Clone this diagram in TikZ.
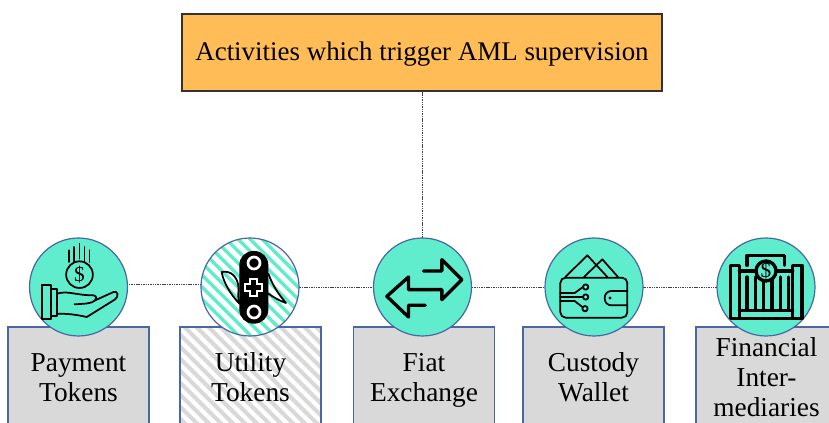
\documentclass[tikz,border=0pt]{standalone}
\usepackage{fontspec}
\setmainfont{Liberation Serif}
\usetikzlibrary{calc}
\definecolor{teal}{HTML}{5FEDCD}
\definecolor{boxgrey}{HTML}{D9D9D9}
\definecolor{edge}{HTML}{4A66A3}
\definecolor{head}{HTML}{FFBC57}
\tikzstyle{title}=[rectangle, draw=black!80, line width=1.1pt, fill=head, minimum width=360pt, minimum height=57.75pt, inner sep=0pt, text height=16pt, text depth=4pt, font=\fontsize{20.2}{24}\selectfont]
\tikzstyle{item}=[rectangle, draw=edge, line width=.9pt, fill=boxgrey, minimum width=\bw, minimum height=\bh, inner sep=0pt, align=center, font=\fontsize{20.5}{22.5}\selectfont]
\tikzstyle{badge}=[circle, draw=edge, line width=.9pt, fill=teal, minimum size=\cw, inner sep=0pt]
\tikzstyle{link}=[line width=.5pt, black!75, dash pattern=on .8pt off .5pt]
\tikzstyle{glyph}=[line width=1.3pt, line join=round, line cap=round]
\tikzstyle{bold}=[line width=2.5pt, line join=round, line cap=round]
\newcommand{\bw}{105.75pt}
\newcommand{\bh}{81pt}
\newcommand{\cw}{73.5pt}
% diagonal stripes, #1 colour, #2 width
\newcommand{\stripes}[2]{
    \foreach \s in {-16,...,16}{
        \draw[#1, line width=#2] ($(path picture bounding box.center)+(\s*9pt-60pt,60pt)$) -- ++(120pt,-120pt);
    }
}
\begin{document}
\begin{tikzpicture}[x=.75pt,y=-.75pt]
    \clip (0,0) rectangle (829,423);
    \node[title] (T) at (422,52.5) {Activities which trigger AML supervision};
    \node[item] (B0) at (78.5,381) {\strut Payment\\\strut Tokens};
    \node[item, path picture={\fill[white] (path picture bounding box.south west) rectangle (path picture bounding box.north east); \stripes{boxgrey}{3pt}}] (B1) at (250.5,381) {\strut Utility\\\strut Tokens};
    \node[item] (B2) at (424,381) {\strut Fiat\\\strut Exchange};
    \node[item] (B3) at (593.5,381) {\strut Custody\\\strut Wallet};
    \node[item] (B4) at (766.5,381) {\strut Financial\\\strut Inter-\\\strut mediaries};
    \foreach \i/\x in {0/78.5,1/250,2/422.5,3/594,4/766}{
        \coordinate (P\i) at (\x,287);
    }
    \draw[link] ($(P0)+(0,-3)$) -- ($(P1)+(0,-3)$);
    \draw[link] (P1) -- (P2) -- (P3) -- (P4);
    \draw[link] (T.south -| P2) -- (P2);
    \node[badge] (C0) at (P0) {};
    \node[badge, path picture={\fill[white] (path picture bounding box.south west) rectangle (path picture bounding box.north east); \stripes{teal}{2.4pt}}] (C1) at (P1) {};
    \node[badge] (C2) at (P2) {};
    \node[badge] (C3) at (P3) {};
    \node[badge] (C4) at (P4) {};
    % hand and coin
    \begin{scope}[shift={(C0.center)}, x=.25pt, y=-.25pt]
        \draw[glyph] (-110,-5) rectangle (-82,97);
        \draw[glyph] (-82,5) rectangle (-65,88);
        \draw[glyph] (-65,20) .. controls (-30,10) and (-10,25) .. (45,25) .. controls (55,27) and (55,35) .. (50,40) -- (105,15) .. controls (118,10) and (122,28) .. (110,37) -- (25,90) .. controls (0,85) and (-20,80) .. (-65,80);
        \draw[glyph] (50,40) .. controls (40,50) and (20,50) .. (-12,52);
        \draw[glyph] (3,-37) circle (40);
        \node[font=\fontsize{16}{16}\selectfont] (D0) at (3,-37) {\$};
        \foreach \x/\a/\b in {-28/-110/-75,-13/-120/-75,3/-130/-85,18/-120/-75,33/-110/-75}{
            \draw[glyph] (\x,\a) -- (\x,\b);
        }
    \end{scope}
    % pocket knife
    \begin{scope}[shift={(C1.center)}, x=.25pt, y=-.25pt]
        \draw[glyph] (-85,-45) .. controls (-55,-50) and (-40,-30) .. (-35,-5) .. controls (-30,10) and (-40,10) .. (-32,50) .. controls (-60,20) and (-80,-15) .. (-85,-45);
        \draw[glyph] (55,-40) .. controls (70,0) and (85,20) .. (108,48) .. controls (85,40) and (70,30) .. (55,20);
        \fill[black, rounded corners=10.5pt] (-32,-108) rectangle (55,110);
        \foreach \y in {-72,75}{
            \draw[white, line width=2pt] (12,\y) circle (18);
        }
        \draw[white, line width=1.5pt] (0,-25) -- (22,-25) -- (22,-10) -- (37,-10) -- (37,12) -- (22,12) -- (22,27) -- (0,27) -- (0,12) -- (-15,12) -- (-15,-10) -- (0,-10) -- cycle;
    \end{scope}
    % two arrows
    \begin{scope}[shift={(C2.center)}, x=.25pt, y=-.25pt]
        \draw[bold] (3,-48) -- (58,-48) -- (58,-82) -- (118,-22) -- (58,38) -- (58,8) -- (-42,8) -- (-42,-30) -- (-107,28) -- (-42,90) -- (-42,55) -- (8,55);
    \end{scope}
    % wallet
    \begin{scope}[shift={(C3.center)}, x=.25pt, y=-.25pt]
        \draw[glyph, rounded corners=4pt] (-101,-28) rectangle (100,92);
        \draw[glyph] (-86,-30) -- (-20,-95) -- (40,-30);
        \draw[glyph] (-30,-30) -- (25,-83) -- (72,-30);
        \draw[glyph, rounded corners=5pt] (100,12) -- (32,12) -- (32,55) -- (100,55);
        \fill (48,33) circle (5);
        \draw[glyph] (-101,18) -- (-58,18) -- (-33,0);
        \draw[glyph] (-101,30) -- (-33,30);
        \draw[glyph] (-101,42) -- (-58,42) -- (-35,60);
        \foreach \x/\y in {-25/0,-25/30,-27/65}{
            \draw[glyph] (\x,\y) circle (8);
        }
    \end{scope}
    % bank
    \begin{scope}[shift={(C4.center)}, x=.25pt, y=-.25pt]
        \draw[bold] (-107,-65) rectangle (-80,95);
        \draw[bold] (80,-65) rectangle (108,95);
        \draw[bold] (-80,95) -- (80,95);
        \draw[bold] (-80,70) -- (80,70);
        \draw[bold] (-57,-65) -- (-57,-95) -- (56,-95) -- (56,-65);
        \draw[bold] (-80,-48) -- (-30,-48);
        \draw[bold] (30,-48) -- (80,-48);
        \foreach \x in {-57,-32,-7,18,43,68}{
            \draw[bold] (\x,-30) -- (\x,70);
        }
        \draw[bold, fill=teal] (0,-48) circle (30);
        \node[font=\fontsize{16}{16}\selectfont] (D4) at (0,-48) {\$};
    \end{scope}
\end{tikzpicture}
\end{document}
